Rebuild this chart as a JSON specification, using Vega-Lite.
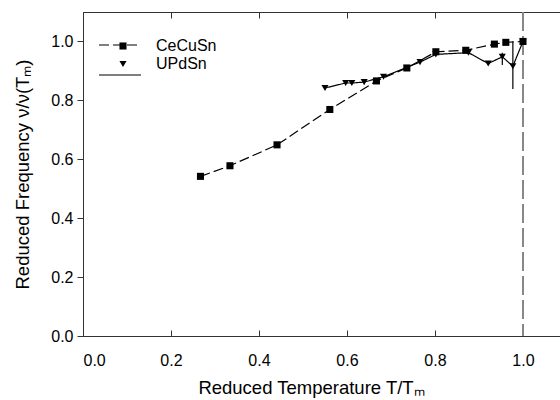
{
  "$schema": "https://vega.github.io/schema/vega-lite/v6.json",
  "width": 478,
  "height": 324,
  "autosize": {"type": "none"},
  "padding": {"left": 83, "top": 12, "right": 0, "bottom": 64},
  "background": "white",
  "config": {
    "view": {"stroke": "#333333", "strokeWidth": 1},
    "font": "Liberation Sans",
    "axis": {
      "grid": false,
      "domainColor": "#333333",
      "tickColor": "#333333",
      "labelColor": "#000000",
      "titleColor": "#000000",
      "labelFontSize": 16,
      "titleFontSize": 18.5,
      "titleFontWeight": "normal",
      "domainWidth": 1,
      "tickWidth": 1
    },
    "legend": {"labelFontSize": 16, "labelColor": "#000000"}
  },
  "data": {
    "values": [
      {"series": "CeCuSn", "x": 0.267, "y": 0.542},
      {"series": "CeCuSn", "x": 0.334, "y": 0.578},
      {"series": "CeCuSn", "x": 0.441, "y": 0.649},
      {"series": "CeCuSn", "x": 0.561, "y": 0.769},
      {"series": "CeCuSn", "x": 0.667, "y": 0.866},
      {"series": "CeCuSn", "x": 0.736, "y": 0.91},
      {"series": "CeCuSn", "x": 0.802, "y": 0.965},
      {"series": "CeCuSn", "x": 0.87, "y": 0.97},
      {"series": "CeCuSn", "x": 0.935, "y": 0.991},
      {"series": "CeCuSn", "x": 0.961, "y": 0.997},
      {"series": "CeCuSn", "x": 1.0, "y": 1.0},
      {"series": "UPdSn", "x": 0.55, "y": 0.842},
      {"series": "UPdSn", "x": 0.597, "y": 0.859},
      {"series": "UPdSn", "x": 0.611, "y": 0.859},
      {"series": "UPdSn", "x": 0.639, "y": 0.862},
      {"series": "UPdSn", "x": 0.683, "y": 0.88},
      {"series": "UPdSn", "x": 0.766, "y": 0.93},
      {"series": "UPdSn", "x": 0.802, "y": 0.956},
      {"series": "UPdSn", "x": 0.876, "y": 0.962},
      {"series": "UPdSn", "x": 0.921, "y": 0.925},
      {"series": "UPdSn", "x": 0.953, "y": 0.948, "lo": 0.92, "hi": 0.962},
      {"series": "UPdSn", "x": 0.977, "y": 0.916, "lo": 0.839, "hi": 1.0},
      {"series": "UPdSn", "x": 1.0, "y": 1.0}
    ]
  },
  "encoding": {
    "y": {
      "field": "y",
      "type": "quantitative",
      "scale": {"domain": [0, 1.1], "nice": false},
      "axis": {"title": "Reduced Frequency ν/ν(Tₘ)", "tickSize": 6, "labelPadding": 4, "values": [0, 0.2, 0.4, 0.6, 0.8, 1.0], "format": ".1f", "titlePadding": 18}
    }
  },
  "layer": [
    {
      "mark": {"type": "rule", "color": "#888888", "strokeWidth": 1.5, "strokeDash": [19, 5]},
      "encoding": {
        "x": {"datum": 1.0, "type": "quantitative", "scale": {"domain": [0, 1.0864], "nice": false, "zero": false}, "axis": null},
        "y": {"value": 0},
        "y2": {"value": 324}
      }
    },
    {
      "mark": {"type": "line", "color": "#000000", "strokeWidth": 1.2},
      "encoding": {
        "x": {
          "field": "x",
          "type": "quantitative",
          "axis": {"orient": "bottom", "title": "Reduced Temperature T/Tₘ", "tickSize": -6, "labelPadding": 22, "values": [0, 0.2, 0.4, 0.6, 0.8, 1.0], "format": ".1f", "titleX": 228, "titleAlign": "center", "titlePadding": 10}
        },
        "strokeDash": {
          "field": "series",
          "type": "nominal",
          "scale": {"range": [[10, 4], [1, 0]]},
          "legend": {
            "title": null,
            "orient": "none",
            "legendX": 15,
            "legendY": 11,
            "padding": 0,
            "symbolSize": 1764,
            "symbolStrokeWidth": 1.2,
            "symbolStrokeColor": "#000000",
            "labelOpacity": 0,
            "labelOffset": 200,
            "rowPadding": -34
          }
        }
      }
    },
    {
      "mark": {"type": "rule", "color": "#000000", "strokeWidth": 1.2},
      "encoding": {
        "x": {"field": "x", "type": "quantitative", "axis": {"orient": "top", "labels": false, "domain": false, "title": "", "tickSize": -6, "values": [0, 0.2, 0.4, 0.6, 0.8, 1.0]}},
        "y": {"field": "lo", "type": "quantitative"},
        "y2": {"field": "hi"}
      }
    },
    {
      "mark": {"type": "point", "filled": true, "color": "#000000", "opacity": 1, "size": 50},
      "encoding": {
        "x": {"field": "x", "type": "quantitative", "axis": null},
        "shape": {
          "field": "series",
          "type": "nominal",
          "scale": {"domain": ["CeCuSn", "UPdSn"], "range": ["square", "triangle-down"]},
          "legend": {
            "title": null,
            "orient": "none",
            "legendX": 32,
            "legendY": 26,
            "padding": 0,
            "symbolSize": 50,
            "labelOffset": 25,
            "rowPadding": 2
          }
        }
      }
    }
  ],
  "resolve": {"axis": {"x": "independent"}}
}
